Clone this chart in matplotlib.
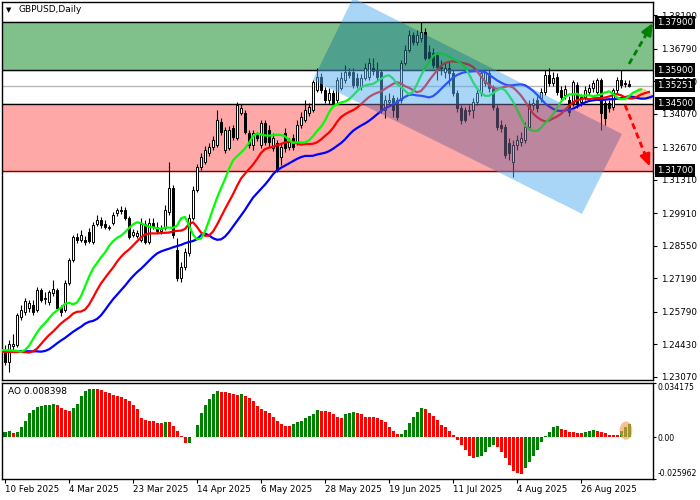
import matplotlib.pyplot as plt
import matplotlib.transforms as mtransforms
from matplotlib.patches import Polygon, Rectangle, Ellipse
import numpy as np

plt.rcParams['font.family'] = ['DejaVu Sans']

# GBPUSD daily candles
opens = [1.2421, 1.2371, 1.2438, 1.2442, 1.2559, 1.2580, 1.2597, 1.2609, 1.2588, 1.2672,
         1.2634, 1.2622, 1.2659, 1.2672, 1.2601, 1.2588, 1.2701, 1.2797, 1.2893, 1.2881,
         1.2881, 1.2914, 1.2872, 1.2948, 1.2964, 1.2948, 1.2931, 1.2952, 1.2994, 1.3006,
         1.3006, 1.2973, 1.2902, 1.2897, 1.2881, 1.2948, 1.2872, 1.2952, 1.2935, 1.2918,
         1.2931, 1.2998, 1.3098, 1.2839, 1.2722, 1.2768, 1.2826, 1.2973, 1.3090, 1.3186,
         1.3207, 1.3244, 1.3270, 1.3278, 1.3374, 1.3257, 1.3265, 1.3349, 1.3307, 1.3412,
         1.3412, 1.3328, 1.3278, 1.3320, 1.3278, 1.3370, 1.3341, 1.3265, 1.3286, 1.3228,
         1.3328, 1.3270, 1.3307, 1.3290, 1.3362, 1.3382, 1.3412, 1.3424, 1.3508, 1.3562,
         1.3508, 1.3466, 1.3495, 1.3466, 1.3516, 1.3550, 1.3583, 1.3583, 1.3558, 1.3520,
         1.3558, 1.3562, 1.3600, 1.3591, 1.3583, 1.3424, 1.3458, 1.3474, 1.3466, 1.3466,
         1.3621, 1.3675, 1.3738, 1.3708, 1.3725, 1.3750, 1.3667, 1.3662, 1.3654, 1.3604,
         1.3583, 1.3600, 1.3579, 1.3495, 1.3433, 1.3424, 1.3420, 1.3424, 1.3458, 1.3495,
         1.3537, 1.3579, 1.3516, 1.3433, 1.3362, 1.3353, 1.3286, 1.3207, 1.3278, 1.3290,
         1.3299, 1.3353, 1.3445, 1.3466, 1.3474, 1.3499, 1.3570, 1.3537, 1.3562, 1.3508,
         1.3487, 1.3466, 1.3453, 1.3529, 1.3458, 1.3479, 1.3499, 1.3516, 1.3499, 1.3550,
         1.3453, 1.3453, 1.3437, 1.3508, 1.3550, 1.3537, 1.3533]
highs = [1.2442, 1.2463, 1.2488, 1.2576, 1.2609, 1.2638, 1.2630, 1.2630, 1.2684, 1.2680,
         1.2663, 1.2672, 1.2714, 1.2680, 1.2609, 1.2714, 1.2806, 1.2902, 1.2910, 1.2923,
         1.2897, 1.2931, 1.2956, 1.2985, 1.2977, 1.2964, 1.2944, 1.2998, 1.3015, 1.3023,
         1.3019, 1.2981, 1.2927, 1.2923, 1.2973, 1.2964, 1.2973, 1.2973, 1.2956, 1.2944,
         1.3027, 1.3207, 1.3111, 1.2889, 1.2789, 1.2847, 1.2989, 1.3107, 1.3199, 1.3244,
         1.3274, 1.3286, 1.3316, 1.3424, 1.3391, 1.3353, 1.3357, 1.3362, 1.3458, 1.3449,
         1.3424, 1.3341, 1.3341, 1.3332, 1.3382, 1.3382, 1.3362, 1.3328, 1.3299, 1.3286,
         1.3349, 1.3307, 1.3324, 1.3382, 1.3416, 1.3466, 1.3453, 1.3550, 1.3600, 1.3579,
         1.3520, 1.3516, 1.3508, 1.3562, 1.3583, 1.3612, 1.3600, 1.3600, 1.3579, 1.3575,
         1.3621, 1.3642, 1.3642, 1.3625, 1.3591, 1.3487, 1.3495, 1.3487, 1.3479, 1.3633,
         1.3696, 1.3759, 1.3750, 1.3759, 1.3792, 1.3767, 1.3696, 1.3683, 1.3667, 1.3633,
         1.3625, 1.3625, 1.3591, 1.3508, 1.3445, 1.3437, 1.3445, 1.3474, 1.3516, 1.3591,
         1.3591, 1.3591, 1.3529, 1.3445, 1.3382, 1.3366, 1.3307, 1.3299, 1.3320, 1.3332,
         1.3374, 1.3466, 1.3474, 1.3483, 1.3516, 1.3591, 1.3600, 1.3583, 1.3579, 1.3524,
         1.3529, 1.3483, 1.3550, 1.3541, 1.3491, 1.3524, 1.3533, 1.3550, 1.3558, 1.3558,
         1.3466, 1.3466, 1.3516, 1.3562, 1.3591, 1.3550, 1.3550]
lows = [1.2358, 1.2329, 1.2413, 1.2434, 1.2546, 1.2567, 1.2580, 1.2567, 1.2580, 1.2622,
        1.2613, 1.2609, 1.2647, 1.2588, 1.2563, 1.2580, 1.2693, 1.2789, 1.2868, 1.2872,
        1.2860, 1.2868, 1.2864, 1.2939, 1.2931, 1.2927, 1.2923, 1.2944, 1.2981, 1.2989,
        1.2964, 1.2885, 1.2893, 1.2889, 1.2872, 1.2864, 1.2864, 1.2927, 1.2910, 1.2906,
        1.2923, 1.2985, 1.2889, 1.2709, 1.2705, 1.2755, 1.2814, 1.2964, 1.3081, 1.3173,
        1.3199, 1.3232, 1.3257, 1.3270, 1.3320, 1.3244, 1.3257, 1.3299, 1.3299, 1.3403,
        1.3324, 1.3265, 1.3257, 1.3295, 1.3265, 1.3278, 1.3270, 1.3253, 1.3165, 1.3194,
        1.3249, 1.3257, 1.3257, 1.3278, 1.3349, 1.3374, 1.3399, 1.3416, 1.3499, 1.3495,
        1.3453, 1.3449, 1.3441, 1.3453, 1.3508, 1.3537, 1.3558, 1.3516, 1.3516, 1.3508,
        1.3550, 1.3550, 1.3570, 1.3550, 1.3412, 1.3391, 1.3445, 1.3395, 1.3382, 1.3453,
        1.3612, 1.3667, 1.3696, 1.3696, 1.3708, 1.3633, 1.3625, 1.3600, 1.3550, 1.3570,
        1.3558, 1.3529, 1.3483, 1.3416, 1.3366, 1.3374, 1.3403, 1.3391, 1.3445, 1.3483,
        1.3524, 1.3499, 1.3424, 1.3341, 1.3332, 1.3224, 1.3215, 1.3144, 1.3257, 1.3274,
        1.3286, 1.3341, 1.3424, 1.3416, 1.3458, 1.3487, 1.3524, 1.3524, 1.3487, 1.3466,
        1.3470, 1.3399, 1.3441, 1.3433, 1.3441, 1.3466, 1.3487, 1.3499, 1.3487, 1.3341,
        1.3362, 1.3416, 1.3424, 1.3495, 1.3516, 1.3520, 1.3520]
closes = [1.2371, 1.2446, 1.2446, 1.2567, 1.2588, 1.2626, 1.2617, 1.2580, 1.2672, 1.2630,
          1.2638, 1.2663, 1.2676, 1.2597, 1.2580, 1.2701, 1.2797, 1.2893, 1.2881, 1.2902,
          1.2872, 1.2877, 1.2944, 1.2964, 1.2944, 1.2935, 1.2935, 1.2985, 1.3006, 1.3002,
          1.2973, 1.2893, 1.2914, 1.2910, 1.2948, 1.2872, 1.2952, 1.2935, 1.2918, 1.2927,
          1.3006, 1.3098, 1.2902, 1.2722, 1.2768, 1.2831, 1.2973, 1.3090, 1.3186, 1.3228,
          1.3257, 1.3270, 1.3299, 1.3382, 1.3332, 1.3341, 1.3341, 1.3311, 1.3445, 1.3433,
          1.3332, 1.3278, 1.3328, 1.3307, 1.3370, 1.3290, 1.3290, 1.3307, 1.3173, 1.3270,
          1.3265, 1.3290, 1.3270, 1.3362, 1.3395, 1.3424, 1.3437, 1.3541, 1.3562, 1.3508,
          1.3466, 1.3495, 1.3453, 1.3550, 1.3558, 1.3583, 1.3570, 1.3529, 1.3529, 1.3558,
          1.3600, 1.3621, 1.3587, 1.3562, 1.3424, 1.3466, 1.3466, 1.3424, 1.3395, 1.3621,
          1.3675, 1.3738, 1.3708, 1.3738, 1.3750, 1.3642, 1.3642, 1.3612, 1.3604, 1.3600,
          1.3600, 1.3579, 1.3495, 1.3433, 1.3382, 1.3382, 1.3424, 1.3458, 1.3495, 1.3579,
          1.3583, 1.3516, 1.3437, 1.3353, 1.3349, 1.3236, 1.3244, 1.3278, 1.3299, 1.3307,
          1.3353, 1.3445, 1.3453, 1.3433, 1.3499, 1.3570, 1.3537, 1.3558, 1.3499, 1.3479,
          1.3512, 1.3416, 1.3541, 1.3453, 1.3479, 1.3508, 1.3516, 1.3537, 1.3550, 1.3412,
          1.3391, 1.3433, 1.3508, 1.3550, 1.3529, 1.3533, 1.35251]

# Awesome Oscillator histogram
ao_values = [0.0036, 0.0037, 0.0025, 0.0036, 0.0067, 0.0105, 0.0153, 0.0173, 0.0188, 0.0199,
             0.0203, 0.0204, 0.0209, 0.0205, 0.0182, 0.0171, 0.0167, 0.0182, 0.0209, 0.0257,
             0.0293, 0.0303, 0.0307, 0.0305, 0.0297, 0.0288, 0.0276, 0.0268, 0.0261, 0.0251,
             0.0240, 0.0226, 0.0205, 0.0178, 0.0121, 0.0109, 0.0105, 0.0100, 0.0090, 0.0088,
             0.0098, 0.0096, 0.0073, 0.0042, 0.0006, -0.0038, -0.0036, 0.0004, 0.0079, 0.0153,
             0.0205, 0.0240, 0.0272, 0.0293, 0.0286, 0.0282, 0.0276, 0.0272, 0.0268, 0.0270,
             0.0261, 0.0247, 0.0226, 0.0199, 0.0178, 0.0167, 0.0153, 0.0130, 0.0105, 0.0084,
             0.0073, 0.0069, 0.0084, 0.0094, 0.0105, 0.0119, 0.0132, 0.0146, 0.0171, 0.0167,
             0.0163, 0.0157, 0.0146, 0.0125, 0.0123, 0.0146, 0.0155, 0.0157, 0.0150, 0.0144,
             0.0130, 0.0127, 0.0125, 0.0123, 0.0109, 0.0098, 0.0067, 0.0042, 0.0019, 0.0021,
             0.0046, 0.0092, 0.0130, 0.0161, 0.0186, 0.0176, 0.0150, 0.0134, 0.0109, 0.0077,
             0.0067, 0.0042, 0.0015, -0.0017, -0.0048, -0.0079, -0.0117, -0.0130, -0.0127, -0.0117,
             -0.0090, -0.0059, -0.0048, -0.0059, -0.0090, -0.0132, -0.0173, -0.0215, -0.0226, -0.0232,
             -0.0194, -0.0153, -0.0121, -0.0079, -0.0027, 0.0008, 0.0036, 0.0063, 0.0071, 0.0050,
             0.0046, 0.0036, 0.0031, 0.0029, 0.0027, 0.0036, 0.0040, 0.0046, 0.0042, 0.0035,
             0.0027, 0.0015, 0.0013, 0.0012, 0.0042, 0.0067, 0.008398]

date_labels = ['10 Feb 2025', '4 Mar 2025', '23 Mar 2025', '14 Apr 2025', '6 May 2025',
               '28 May 2025', '19 Jun 2025', '11 Jul 2025', '4 Aug 2025', '26 Aug 2025']
price_ticks = [1.38190, 1.36790, 1.35430, 1.34070, 1.32670, 1.31310,
               1.29910, 1.28550, 1.27190, 1.25790, 1.24430, 1.23070]
zone_levels = [1.37900, 1.35900, 1.34500, 1.31700]
last_price = 1.35251
ao_ticks = [0.034175, 0.0, -0.025962]
ao_last = 0.008398

# Alligator starting values (history before the first visible bar)
jaw_seed = 1.2415
teeth_seed = 1.2412
lips_seed = 1.2420


def smma(values, period, seed):
    out = []
    prev = seed
    for v in values:
        prev = (prev * (period - 1) + v) / period
        out.append(prev)
    return np.array(out)


def draw_candles(ax, o, h, l, c):
    x = np.arange(len(c))
    ax.vlines(x, l, h, color='black', linewidth=0.8, zorder=3)
    up = c >= o
    low = np.minimum(o, c)
    size = np.maximum(np.abs(c - o), 0.00004)
    ax.bar(x[up], size[up], bottom=low[up], width=0.58, color='white',
           edgecolor='black', linewidth=0.7, zorder=4)
    ax.bar(x[~up], size[~up], bottom=low[~up], width=0.58, color='black',
           edgecolor='black', linewidth=0.7, zorder=4)


o = np.array(opens)
h = np.array(highs)
l = np.array(lows)
c = np.array(closes)
ao = np.array(ao_values)
n = len(c)
idx = np.arange(n)

fig = plt.figure(figsize=(7, 5), dpi=100)
ax = fig.add_axes([2 / 700, 1 - 380 / 500, 651 / 700, 378 / 500])
ax2 = fig.add_axes([2 / 700, 1 - 478.5 / 500, 651 / 700, 95.5 / 500])

# ---- price panel ----
ax.set_xlim(-0.75, 162)
ax.set_ylim(1.2294, 1.3875)

ax.axhspan(zone_levels[1], zone_levels[0], color='#80c08a', zorder=0)
ax.axhspan(zone_levels[3], zone_levels[2], color='#ffa8a8', zorder=0)
for lvl in zone_levels[:3]:
    ax.axhline(lvl, color='black', lw=1, zorder=1)
ax.axhline(zone_levels[3], color='#800000', lw=1, zorder=1)
ax.axhline(last_price, color='#b8b8b8', lw=1, zorder=1)

draw_candles(ax, o, h, l, c)

# Alligator: jaw, teeth, lips on the median price
median = (h + l) / 2
for period, shift, seed, color in [(13, 8, jaw_seed, '#0000ff'),
                                   (8, 5, teeth_seed, '#ff0000'),
                                   (5, 3, lips_seed, '#00ff00')]:
    line = smma(median, period, seed)
    ax.plot(np.r_[-1, idx + shift], np.r_[seed, line], color=color, lw=1.6, zorder=5)

# orange fan at the end of the lines
fan = Polygon([(156.75, 1.3470), (158.25, 1.3516), (160, 1.3512), (162, 1.3483), (162, 1.3466)],
              closed=True, fc='#f9c090', ec='none', alpha=0.85, zorder=4.5)
ax.add_patch(fan)

# blue falling channel, tinted differently over each zone
channel = [(87, 1.3892), (154.25, 1.3323), (144.25, 1.2989), (77, 1.3549)]
pieces = [(1.379, 1.40, '#55adf1'), (1.359, 1.379, '#208190'), (1.345, 1.359, '#55adf1'),
          (1.317, 1.345, '#7d6698'), (1.20, 1.317, '#55adf1')]
for lo, hi, col in pieces:
    poly = Polygon(channel, closed=True, fc=col, ec='none', alpha=0.5, zorder=6)
    ax.add_patch(poly)
    poly.set_clip_path(Rectangle((-5, lo), 200, hi - lo, transform=ax.transData))

# dashed scenario arrows
for start, tip, col in [((156, 1.3616), (162, 1.3788), '#008000'),
                        ((155, 1.3445), (161.25, 1.3186), '#ff0000')]:
    base = (tip[0] - 0.15 * (tip[0] - start[0]), tip[1] - 0.15 * (tip[1] - start[1]))
    ax.plot([start[0], base[0]], [start[1], base[1]], color=col, lw=2,
            ls=(0, (2.2, 1.4)), zorder=8)
    ax.annotate('', xy=tip, xytext=base, zorder=8,
                arrowprops=dict(arrowstyle='-|>,head_length=0.7,head_width=0.3',
                                color=col, lw=2, shrinkA=0, shrinkB=0))

ax.yaxis.tick_right()
ax.set_yticks(price_ticks)
ax.set_yticklabels([f'{t:.5f}' for t in price_ticks])
ax.tick_params(axis='y', direction='out', length=3, labelsize=6.3, pad=3, width=0.8)
ax.set_xticks([])

trans = mtransforms.blended_transform_factory(ax.transAxes, ax.transData)
for lvl in zone_levels + [last_price]:
    ax.text(1.006, lvl, f'{lvl:.5f}', transform=trans, va='center', ha='left',
            color='white', fontsize=6.3, clip_on=False, zorder=20,
            bbox=dict(boxstyle='square,pad=0.25', fc='black', ec='none'))

ax.text(0.006, 0.979, '\u25bc', transform=ax.transAxes, fontsize=5, va='center', zorder=20)
ax.text(0.0246, 0.979, 'GBPUSD,Daily', transform=ax.transAxes, fontsize=6.5,
        va='center', zorder=20)

# ---- AO panel ----
ax2.set_xlim(-0.75, 162)
ax2.set_ylim(ao_ticks[2], ao_ticks[0])
colors = ['#008000'] + ['#008000' if ao[i] > ao[i - 1] else '#ff0000' for i in range(1, n)]
ax2.bar(idx, ao, width=0.75, color=colors, zorder=2)
ax2.add_patch(Ellipse((155.25, 0.0042), width=3.2, height=0.0115, fc='#f4a050',
                      ec='none', alpha=0.65, zorder=3))

ax2.yaxis.tick_right()
ax2.set_yticks(ao_ticks)
ax2.set_yticklabels(['0.034175', '0.00', '-0.025962'])
ax2.tick_params(axis='y', direction='out', length=2, labelsize=5.6, pad=1.5, width=0.8)
labels = ax2.get_yticklabels()
labels[0].set_va('top')
labels[2].set_va('bottom')

ax2.set_xticks(np.arange(len(date_labels)) * 16)
ax2.set_xticklabels(date_labels, ha='left')
ax2.tick_params(axis='x', direction='out', length=3, labelsize=6.3, pad=2, width=0.8)

ax2.text(0.009, 0.915, f'AO {ao_last:.6f}', transform=ax2.transAxes, fontsize=6.5,
         va='center')

for a in (ax, ax2):
    for s in a.spines.values():
        s.set_color('black')
        s.set_linewidth(1)

fig.savefig('out.png', dpi=100)
